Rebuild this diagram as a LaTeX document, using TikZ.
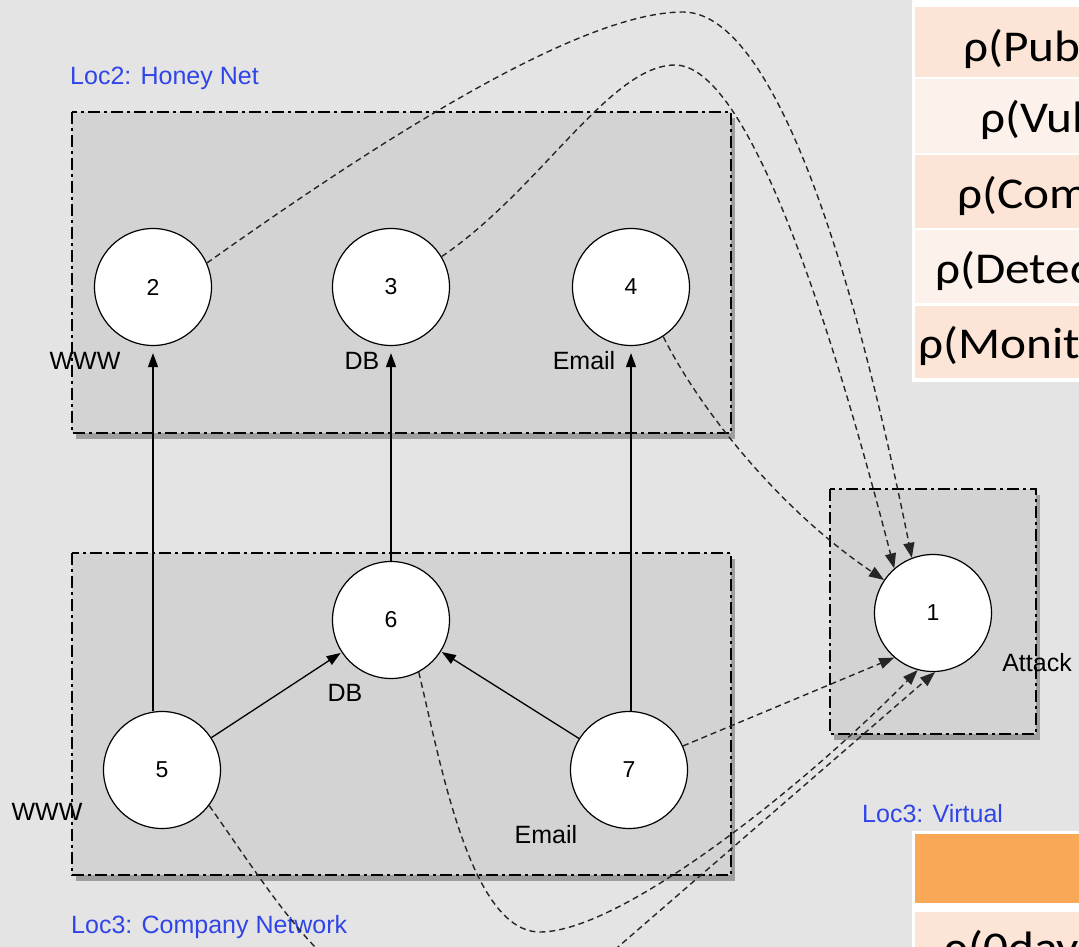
\documentclass[tikz,border=0pt]{standalone}
\usepackage{fontspec}
\usepackage{graphicx}
\setmainfont{Liberation Sans}
\newfontfamily\calib{Carlito}
\usetikzlibrary{arrows.meta,shadows}
\definecolor{bgc}{HTML}{E4E4E4}
\definecolor{boxc}{HTML}{D3D3D3}
\definecolor{locblue}{HTML}{2F45E8}
\definecolor{peach}{HTML}{FCE4D6}
\definecolor{peachl}{HTML}{FDF1EC}
\definecolor{orangeh}{HTML}{F9A857}
\newcommand{\celltxt}[1]{\scalebox{1.12}[1]{#1}}
\tikzset{
 locbox/.style={fill=boxc, draw=black, line width=1.4pt, dash pattern=on 12pt off 4pt on 3pt off 4pt,
   drop shadow={shadow xshift=4pt, shadow yshift=-6pt, opacity=0.3, fill=black}},
 hostnode/.style={circle, draw=black, fill=white, line width=1.2pt, minimum size=117pt, inner sep=0pt,
   font=\fontsize{23}{23}\selectfont},
 lbl/.style={font=\fontsize{25}{25}\selectfont, inner sep=0pt},
 loclbl/.style={font=\fontsize{25}{25}\selectfont, text=locblue, anchor=base west, inner sep=0pt},
 link/.style={line width=1.3pt, -{Triangle[length=14pt,width=10pt]}},
 attackedge/.style={line width=1.4pt, dash pattern=on 6pt off 4pt, draw=black!85,
   -{Triangle[length=15pt,width=11pt]}},
 celltext/.style={font=\calib\fontsize{44}{44}\selectfont, anchor=base west, inner sep=0pt}
}
\begin{document}
\begin{tikzpicture}[x=1pt,y=-1pt]
\useasboundingbox (0,0) rectangle (1079,947);
\clip (0,0) rectangle (1079,947);
\fill[bgc] (0,0) rectangle (1079,947);

% location boxes
\path[locbox] (72,112) rectangle (731,433);
\path[locbox] (72,553) rectangle (731,875);
\path[locbox] (830,489) rectangle (1036,734);

% location labels
\node[loclbl] (loc2) at (70,85) {Loc2: Honey Net};
\node[loclbl] (loc3c) at (71,933) {Loc3: Company Network};
\node[loclbl] (loc3v) at (862,822) {Loc3: Virtual};

% tables (cut off at the right edge)
\fill[white] (912,-5) rectangle (1090,382);
\fill[peach]  (915,7)   rectangle (1090,77);
\fill[peachl] (915,79)  rectangle (1090,153);
\fill[peach]  (915,155) rectangle (1090,228);
\fill[peachl] (915,230) rectangle (1090,303);
\fill[peach]  (915,306) rectangle (1090,378);
\node[celltext] (t1) at (963,62)  {\celltxt{ρ(Pub}};
\node[celltext] (t2) at (980,133) {\celltxt{ρ(Vul}};
\node[celltext] (t3) at (957,208) {\celltxt{ρ(Com}};
\node[celltext] (t4) at (935,283) {\celltxt{ρ(Detec}};
\node[celltext] (t5) at (918,358) {\celltxt{ρ(Monit}};

\fill[white] (912,831) rectangle (1090,960);
\fill[orangeh] (915,834) rectangle (1090,903);
\fill[peach] (915,912) rectangle (1090,960);
\node[celltext] (t6) at (943,962) {\celltxt{ρ(0day}};

% hosts
\node[hostnode] (n1) at (933,613) {1};
\node[hostnode] (n2) at (153,287) {2};
\node[hostnode] (n3) at (391,287) {3};
\node[hostnode] (n4) at (631,287) {4};
\node[hostnode] (n5) at (162,770) {5};
\node[hostnode] (n6) at (391,620) {6};
\node[hostnode] (n7) at (629,770) {7};

% host labels
\node[lbl] (l2) at (85,361) {WWW};
\node[lbl] (l3) at (362,361) {DB};
\node[lbl] (l4) at (584,361) {Email};
\node[lbl] (l6) at (345,693) {DB};
\node[lbl] (l5) at (47,812) {WWW};
\node[lbl] (l7) at (546,835) {Email};
\node[lbl] (l1) at (1037,663) {Attack};

% solid links
\draw[link, shorten >=7pt] (n2.south |- n5.north) -- (n2.south);
\draw[link, shorten >=7pt] (n6.north) -- (n3.south);
\draw[link, shorten >=7pt] (n4.south |- n7.north) -- (n4.south);
\draw[link, shorten >=1pt] (n5) -- (n6);
\draw[link, shorten >=1pt] (n7) -- (n6);

% attack edges
\draw[attackedge] (n2.24) .. controls (380,140) and (580,12) .. (683,12)
  .. controls (780,12) and (860,300) .. (n1.111);
\draw[attackedge] (n3.31) .. controls (540,190) and (610,65) .. (675,65)
  .. controls (745,65) and (825,300) .. (n1.131);
\draw[attackedge] (n4.-57) .. controls (700,410) and (780,510) .. (n1.146);
\draw[attackedge] (n7.24) -- (n1.229);
\draw[attackedge] (n6.-62) .. controls (440,760) and (470,932) .. (540,932)
  .. controls (620,932) and (800,790) .. (n1.255);
\draw[attackedge] (n5.-37) .. controls (290,920) and (340,1010) .. (450,1010)
  .. controls (520,1010) and (570,990) .. (618,947) -- (n1.272);
\end{tikzpicture}
\end{document}
